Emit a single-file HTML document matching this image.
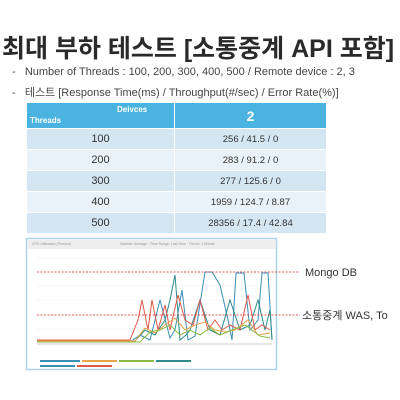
<!DOCTYPE html>
<html><head><meta charset="utf-8"><style>
body{margin:0;width:400px;height:400px;background:#fff;position:relative;overflow:hidden;font-family:"Liberation Sans","Noto Sans CJK KR",sans-serif;color:#333}
.t{position:absolute;left:2px;top:29px;font-size:25px;font-weight:bold;white-space:nowrap;letter-spacing:0px;color:#2a2a2a}
.b{position:absolute;left:12px;font-size:11px;white-space:nowrap;color:#444}
table{position:absolute;left:27px;top:102px;width:300px;border-collapse:collapse;font-size:11px}
td{height:20px;text-align:center;padding:0;border-right:1px solid #fff;border-top:1px solid #fff}
.h td{background:#4bb3e0;color:#fff;height:25px}
.o td{background:#d4e6f2}.e td{background:#e9f2f8}
</style></head><body>
<div class="t">최대 부하 테스트 [소통중계 API 포함]</div>
<div class="b" style="top:66px">-&nbsp;&nbsp;&nbsp;Number of Threads : 100, 200, 300, 400, 500 / Remote device : 2, 3</div>
<div class="b" style="top:84px">-&nbsp;&nbsp;&nbsp;테스트 [Response Time(ms) / Throughput(#/sec) / Error Rate(%)]</div>
<table>
<tr class="h"><td style="width:147px;position:relative;font-size:8px;font-weight:bold"><span style="position:absolute;left:3px;top:13px">Threads</span><span style="position:absolute;left:90px;top:2px">Deivces</span></td><td style="font-size:14px;font-weight:bold">2</td></tr>
<tr class="o"><td>100</td><td style="font-size:9.5px">256 / 41.5 / 0</td></tr>
<tr class="e"><td>200</td><td style="font-size:9.5px">283 / 91.2 / 0</td></tr>
<tr class="o"><td>300</td><td style="font-size:9.5px">277 / 125.6 / 0</td></tr>
<tr class="e"><td>400</td><td style="font-size:9.5px">1959 / 124.7 / 8.87</td></tr>
<tr class="o"><td>500</td><td style="font-size:9.5px">28356 / 17.4 / 42.84</td></tr>
</table>
<svg style="position:absolute;left:0;top:0" width="400" height="400">
<rect x="26.5" y="238.5" width="250" height="131" fill="#fff" stroke="#a9d3ea" stroke-width="1.5"/>
<rect x="28" y="240" width="247" height="9" fill="#eee"/>
<g stroke="#eee" stroke-width="0.5"><line x1="37" y1="258" x2="272" y2="258"/><line x1="37" y1="286" x2="272" y2="286"/><line x1="37" y1="300" x2="272" y2="300"/><line x1="37" y1="329" x2="272" y2="329"/></g>
<line x1="37" y1="344" x2="272" y2="344" stroke="#ccc"/>
<polyline fill="none" stroke="#3a8fb7" stroke-width="1" points="37,342 130,342 140,335 150,340 160,300 170,338 175,330 182,290 188,340 195,336 205,272 212,272 220,285 228,320 232,340 236,273 244,273 250,330 258,320 262,273 268,273 272,340"/>
<polyline fill="none" stroke="#2d8b8b" stroke-width="1" points="37,341 135,341 145,330 155,335 165,320 170,300 175,275 180,340 186,335 190,330 200,300 210,330 220,335 230,300 240,330 250,325 258,300 265,330 270,310 272,340"/>
<polyline fill="none" stroke="#e0584a" stroke-width="1" points="37,340 130,340 138,320 142,300 148,330 152,300 158,330 165,305 170,330 178,295 185,320 193,325 200,300 208,330 215,320 222,330 230,325 240,330 248,295 255,330 262,325 270,330"/>
<polyline fill="none" stroke="#e9a34a" stroke-width="1" points="37,341 135,341 145,328 155,333 165,325 175,318 185,330 195,325 205,322 215,330 225,332 235,330 248,320 258,335 270,333"/>
<polyline fill="none" stroke="#8dbb44" stroke-width="1" points="37,342 140,342 150,332 160,330 170,325 180,335 190,330 200,335 210,328 220,335 232,330 245,325 260,336 270,338"/>
<g stroke="#e02020" stroke-dasharray="2,1.5" stroke-width="0.8"><line x1="37" y1="272" x2="300" y2="272"/><line x1="37" y1="315" x2="300" y2="315"/></g>
<g fill="#999" font-size="3.5"><text x="32" y="245">CPU Utilization (Percent)</text><text x="120" y="245">Statistic: Average · Time Range: Last Hour · Period: 1 Minute</text></g>
<g><rect x="40" y="360" width="40" height="2" fill="#3a8fb7"/><rect x="82" y="360" width="35" height="2" fill="#e9a34a"/><rect x="119" y="360" width="35" height="2" fill="#8dbb44"/><rect x="156" y="360" width="35" height="2" fill="#2d8b8b"/><rect x="40" y="365" width="35" height="2" fill="#3a8fb7"/><rect x="77" y="365" width="35" height="2" fill="#e0584a"/></g>
<text x="305" y="276" font-size="11" fill="#333">Mongo DB</text>
<text x="302" y="319" font-size="11" fill="#333">소통중계 WAS, To</text>
</svg>
</body></html>
